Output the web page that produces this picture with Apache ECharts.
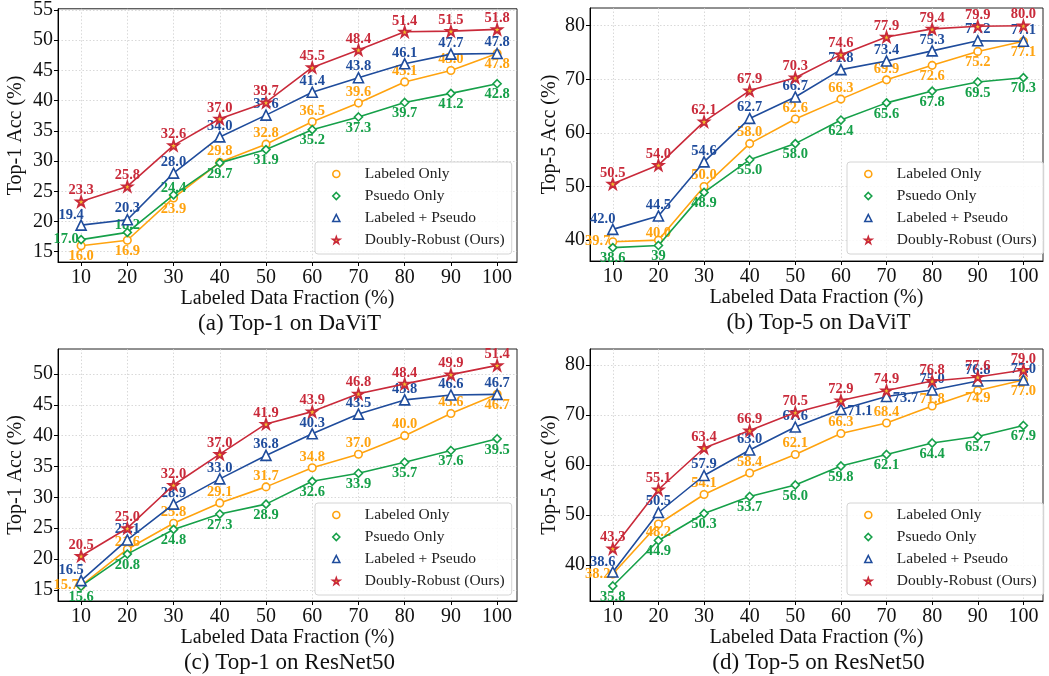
<!DOCTYPE html>
<html><head><meta charset="utf-8">
<script src="https://cdn.jsdelivr.net/npm/echarts@6/dist/echarts.min.js"></script>
<style>html,body{margin:0;padding:0;background:#fff}#c{width:1049px;height:676px}</style>
</head><body><div id="c"></div>
<script>
// ---------- data ----------
const fractions = [10, 20, 30, 40, 50, 60, 70, 80, 90, 100];
const xTicks = [10, 20, 30, 40, 50, 60, 70, 80, 90, 100];
const seriesNames = ['Labeled Only', 'Psuedo Only', 'Labeled + Pseudo', 'Doubly-Robust (Ours)'];

const davitTop1Labeled = [16.0, 16.9, 23.9, 29.8, 32.8, 36.5, 39.6, 43.1, 45.0, 47.8];
const davitTop1Pseudo  = [17.0, 18.2, 24.4, 29.7, 31.9, 35.2, 37.3, 39.7, 41.2, 42.8];
const davitTop1Both    = [19.4, 20.3, 28.0, 34.0, 37.6, 41.4, 43.8, 46.1, 47.7, 47.8];
const davitTop1DR      = [23.3, 25.8, 32.6, 37.0, 39.7, 45.5, 48.4, 51.4, 51.5, 51.8];
const davitTop1Ticks   = [15, 20, 25, 30, 35, 40, 45, 50, 55];

const davitTop5Labeled = [39.7, 40.0, 50.0, 58.0, 62.6, 66.3, 69.9, 72.6, 75.2, 77.1];
const davitTop5Pseudo  = [38.6, 39.0, 48.9, 55.0, 58.0, 62.4, 65.6, 67.8, 69.5, 70.3];
const davitTop5Both    = [42.0, 44.5, 54.6, 62.7, 66.7, 71.8, 73.4, 75.3, 77.2, 77.1];
const davitTop5DR      = [50.5, 54.0, 62.1, 67.9, 70.3, 74.6, 77.9, 79.4, 79.9, 80.0];
const davitTop5Ticks   = [40, 50, 60, 70, 80];

const resnetTop1Labeled = [15.7, 21.6, 25.8, 29.1, 31.7, 34.8, 37.0, 40.0, 43.6, 46.7];
const resnetTop1Pseudo  = [15.6, 20.8, 24.8, 27.3, 28.9, 32.6, 33.9, 35.7, 37.6, 39.5];
const resnetTop1Both    = [16.5, 23.1, 28.9, 33.0, 36.8, 40.3, 43.5, 45.8, 46.6, 46.7];
const resnetTop1DR      = [20.5, 25.0, 32.0, 37.0, 41.9, 43.9, 46.8, 48.4, 49.9, 51.4];
const resnetTop1Ticks   = [15, 20, 25, 30, 35, 40, 45, 50];

const resnetTop5Labeled = [38.2, 48.2, 54.1, 58.4, 62.1, 66.3, 68.4, 71.8, 74.9, 77.0];
const resnetTop5Pseudo  = [35.8, 44.9, 50.3, 53.7, 56.0, 59.8, 62.1, 64.4, 65.7, 67.9];
const resnetTop5Both    = [38.6, 50.5, 57.9, 63.0, 67.6, 71.1, 73.7, 75.0, 76.8, 77.0];
const resnetTop5DR      = [43.3, 55.1, 63.4, 66.9, 70.5, 72.9, 74.9, 76.8, 77.6, 79.0];
const resnetTop5Ticks   = [40, 50, 60, 70, 80];

// printed text that differs from the one-decimal format
const labelTextOverride = { '1-1-1': '39' };

// ---------- style ----------
const FONT = '"Liberation Serif", "Times New Roman", serif';
const colors = ['#FFA30F', '#16A049', '#1F4C9C', '#C92A3A'];
const STAR = 'path://M50,2 L61.8,37.4 L99,37.4 L68.9,59.3 L80.4,94.6 L50,72.8 L19.6,94.6 L31.1,59.3 L1,37.4 L38.2,37.4 Z';
const symbols = ['circle', 'diamond', 'triangle', STAR];
const symbolSizes = [7.5, 8, 10, 10];
const offsets = {
  T: [0, -11], B: [0, 11], t: [0, -7], b: [0, 8],
  L: [-15, 0], TL: [-10, -10], R: [19, 2]
};
const allT = Array(10).fill('T'), allB = Array(10).fill('B');

const panels = [
  { grid: {left: 58, top: 8, width: 459, height: 254}, yMin: 13.3, yMax: 55.2, yTicks: davitTop1Ticks,
    yName: 'Top-1 Acc (%)', yNameGap: 32, title: '(a) Top-1 on DaViT',
    values: [davitTop1Labeled, davitTop1Pseudo, davitTop1Both, davitTop1DR],
    pos: [['B','B','B','T','T','T','T','T','T','B'], ['L','t','t','B','B','B','B','B','B','B'],
          ['TL','T','T','T','T','T','T','T','T','T'], allT] },
  { grid: {left: 590, top: 8, width: 453, height: 253}, yMin: 36.1, yMax: 83.3, yTicks: davitTop5Ticks,
    yName: 'Top-5 Acc (%)', yNameGap: 30, title: '(b) Top-5 on DaViT',
    values: [davitTop5Labeled, davitTop5Pseudo, davitTop5Both, davitTop5DR],
    pos: [['L','t','T','T','T','T','T','B','B','B'], allB,
          ['TL','T','T','T','T','T','T','T','T','T'], allT] },
  { grid: {left: 58, top: 349, width: 459, height: 252}, yMin: 13.2, yMax: 54.05, yTicks: resnetTop1Ticks,
    yName: 'Top-1 Acc (%)', yNameGap: 32, title: '(c) Top-1 on ResNet50',
    values: [resnetTop1Labeled, resnetTop1Pseudo, resnetTop1Both, resnetTop1DR],
    pos: [['L','t','T','T','T','T','T','T','T','B'], allB,
          ['TL','T','T','T','T','T','T','T','T','T'], allT] },
  { grid: {left: 590, top: 349, width: 453, height: 252}, yMin: 32.8, yMax: 83.2, yTicks: resnetTop5Ticks,
    yName: 'Top-5 Acc (%)', yNameGap: 30, title: '(d) Top-5 on ResNet50',
    values: [resnetTop5Labeled, resnetTop5Pseudo, resnetTop5Both, resnetTop5DR],
    pos: [['L','b','T','T','T','T','T','t','b','B'], allB,
          ['TL','T','T','T','T','R','R','T','T','T'], allT] }
];

const grid = [], xAxis = [], yAxis = [], series = [], title = [], legend = [];
panels.forEach((p, pi) => {
  grid.push(Object.assign({show: true, borderColor: '#222', borderWidth: 1, backgroundColor: 'transparent'}, p.grid));
  const axisCommon = {
    axisLine: {show: true, onZero: false, lineStyle: {color: '#000', width: 1}},
    axisTick: {show: true, inside: false, length: 4, lineStyle: {color: '#000'}},
    splitLine: {show: true, lineStyle: {color: '#cfcfcf', type: [1.5, 2], width: 0.8}},
    axisLabel: {color: '#111', fontFamily: FONT, fontSize: 20},
    nameTextStyle: {color: '#111', fontFamily: FONT, fontSize: 20}
  };
  xAxis.push({
    type: 'value', gridIndex: pi, min: 5, max: 104.3,
    name: 'Labeled Data Fraction (%)', nameLocation: 'middle', nameGap: 25,
    nameTextStyle: axisCommon.nameTextStyle,
    axisLine: axisCommon.axisLine,
    axisTick: Object.assign({}, axisCommon.axisTick, {customValues: xTicks}),
    axisLabel: Object.assign({}, axisCommon.axisLabel, {customValues: xTicks, margin: 6}),
    splitLine: axisCommon.splitLine
  });
  yAxis.push({
    type: 'value', gridIndex: pi, min: p.yMin, max: p.yMax,
    name: p.yName, nameLocation: 'middle', nameGap: p.yNameGap,
    nameTextStyle: axisCommon.nameTextStyle,
    axisLine: axisCommon.axisLine,
    axisTick: Object.assign({}, axisCommon.axisTick, {customValues: p.yTicks}),
    axisLabel: Object.assign({}, axisCommon.axisLabel, {customValues: p.yTicks, margin: 5}),
    splitLine: axisCommon.splitLine
  });
  title.push({
    text: p.title, left: p.grid.left + p.grid.width / 2 - 3, textAlign: 'center',
    top: p.grid.top + p.grid.height + 45,
    textStyle: {fontFamily: FONT, fontSize: 23, fontWeight: 'normal', color: '#111'}
  });
  legend.push({
    orient: 'vertical', left: p.grid.left + 257, top: p.grid.top + 154,
    selectedMode: false,
    backgroundColor: 'rgba(255,255,255,0.85)', borderColor: '#d4d4d4', borderWidth: 1, borderRadius: 3,
    padding: [4, 7, 6, 17], itemWidth: 7, itemHeight: 7, itemGap: 6,
    textStyle: {fontFamily: FONT, fontSize: 15.5, color: '#222', lineHeight: 16, padding: [0, 0, 0, 20]},
    data: seriesNames.map((n, si) => ({
      name: n, icon: symbols[si],
      itemStyle: si === 3 ? {color: '#F2C12E', borderColor: colors[3], borderWidth: 1.6}
                          : {color: '#fff', borderColor: colors[si], borderWidth: 1.6}
    }))
  });
  p.values.forEach((vals, si) => {
    series.push({
      name: seriesNames[si], type: 'line', xAxisIndex: pi, yAxisIndex: pi,
      symbol: symbols[si], symbolSize: symbolSizes[si], showAllSymbol: true,
      lineStyle: {color: colors[si], width: 1.6},
      itemStyle: si === 3 ? {color: '#F2C12E', borderColor: colors[3], borderWidth: 1.8}
                          : {color: '#fff', borderColor: colors[si], borderWidth: 1.6},
      z: 2 + si,
      label: {
        show: true, position: 'inside', color: colors[si], fontFamily: FONT, fontWeight: 'bold',
        fontSize: 14.5, textBorderWidth: 0,
        formatter: (prm) => labelTextOverride[pi + '-' + si + '-' + prm.dataIndex] || prm.value[1].toFixed(1)
      },
      emphasis: {disabled: true},
      animation: false,
      data: vals.map((v, i) => ({value: [fractions[i], v], label: {offset: offsets[p.pos[si][i]]}}))
    });
  });
});

const chart = echarts.init(document.getElementById('c'), null, {renderer: 'canvas'});
chart.setOption({
  backgroundColor: '#fff', animation: false,
  grid, xAxis, yAxis, series, title, legend
});
</script></body></html>
